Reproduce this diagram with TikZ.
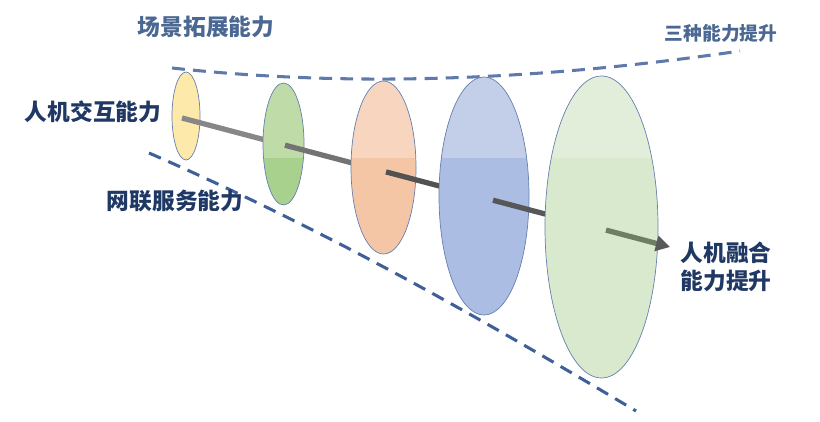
\documentclass[tikz,border=0pt]{standalone}
\usepackage{fontspec}
\newfontfamily\cjk{Noto Sans CJK SC}
\usetikzlibrary{arrows.meta}
\definecolor{txtdark}{HTML}{1F3864}
\definecolor{txtlight}{HTML}{4A6892}
\definecolor{dashtop}{HTML}{5F79AB}
\definecolor{dashbot}{HTML}{3F5F9A}
\definecolor{outl}{HTML}{6680B0}
\definecolor{yelT}{HTML}{FDE9AA}
\definecolor{yelB}{HTML}{FBE49C}
\definecolor{grnT}{HTML}{BFDBA8}
\definecolor{grnB}{HTML}{A9D18E}
\definecolor{orT}{HTML}{F8D5BE}
\definecolor{orB}{HTML}{F5C6A6}
\definecolor{blT}{HTML}{C3CFE9}
\definecolor{blB}{HTML}{ABBDE2}
\definecolor{lgT}{HTML}{E2EDDA}
\definecolor{lgB}{HTML}{D8E9CE}
\newcommand\mytwotone[6]{%
  \begin{scope}
    \clip (#1,#2) ellipse [x radius=#3, y radius=#4];
    \fill[#6] (#1-#3-2,#2-#4-2) rectangle (#1+#3+2,#2+#4+2);
    \fill[#5] (#1-#3-2,#2-#4-2) rectangle (#1+#3+2,158);
  \end{scope}
  \draw[ellout] (#1,#2) ellipse [x radius=#3, y radius=#4];}
\tikzset{
  lbl/.style={inner sep=0pt, font=\cjk\bfseries\fontsize{19.4}{24}\selectfont},
  lblsmall/.style={inner sep=0pt, font=\cjk\bfseries\fontsize{16}{20}\selectfont},
  ellout/.style={draw=outl, line width=0.6pt},
  dashln/.style={line width=2.6pt, dash pattern=on 11pt off 7pt},
  seg/.style={line width=4.5pt}
}
\begin{document}
\begin{tikzpicture}[x=0.03cm,y=-0.03cm]
\useasboundingbox (0,0) rectangle (820,421);
% dashed boundary lines
\coordinate (ts) at (172,68);
\coordinate (te) at (740,51);
\coordinate (bs) at (149,153);
\coordinate (be) at (636,411);
\draw[dashln, draw=dashtop] (ts) .. controls (320,84) and (500,86) .. (te);
\draw[dashln, draw=dashbot] (bs) .. controls (330,232) and (480,318) .. (be);
% arrow points
\coordinate (a1) at (182,118);
\coordinate (a2) at (285,145.2);
\coordinate (a3) at (386,171.9);
\coordinate (a4) at (493,200.2);
\coordinate (a5) at (606,230.1);
\coordinate (tip) at (670,247);
% ellipses with arrow segments
\mytwotone{186}{116}{14}{44}{yelT}{yelB}
\draw[seg, draw=black!47] (a1) -- (a2);
\mytwotone{283.5}{144}{20.5}{61}{grnT}{grnB}
\draw[seg, draw=black!55] (a2) -- (a3);
\mytwotone{383.5}{167.5}{32.5}{86.5}{orT}{orB}
\draw[seg, draw=black!68] (a3) -- (a4);
\mytwotone{484}{196}{45}{119}{blT}{blB}
\draw[seg, draw=black!66] (a4) -- (a5);
\mytwotone{601.5}{227}{56.5}{151}{lgT}{lgB}
\draw[seg, draw={rgb,255:red,110;green,126;blue,100}, -{Triangle[length=12pt,width=13pt,color=black!65]}] (a5) -- (tip);
% labels
\node[lbl, text=txtlight] (t1) at (206,27) {场景拓展能力};
\node[lbl, text=txtdark] (t2) at (93,112) {人机交互能力};
\node[lbl, text=txtdark] (t3) at (175,201) {网联服务能力};
\node[lblsmall, text=txtlight] (t4) at (721,33) {三种能力提升};
\node[lbl, text=txtdark, align=left] (t5) at (726,267) {人机融合\\能力提升};
\end{tikzpicture}
\end{document}
